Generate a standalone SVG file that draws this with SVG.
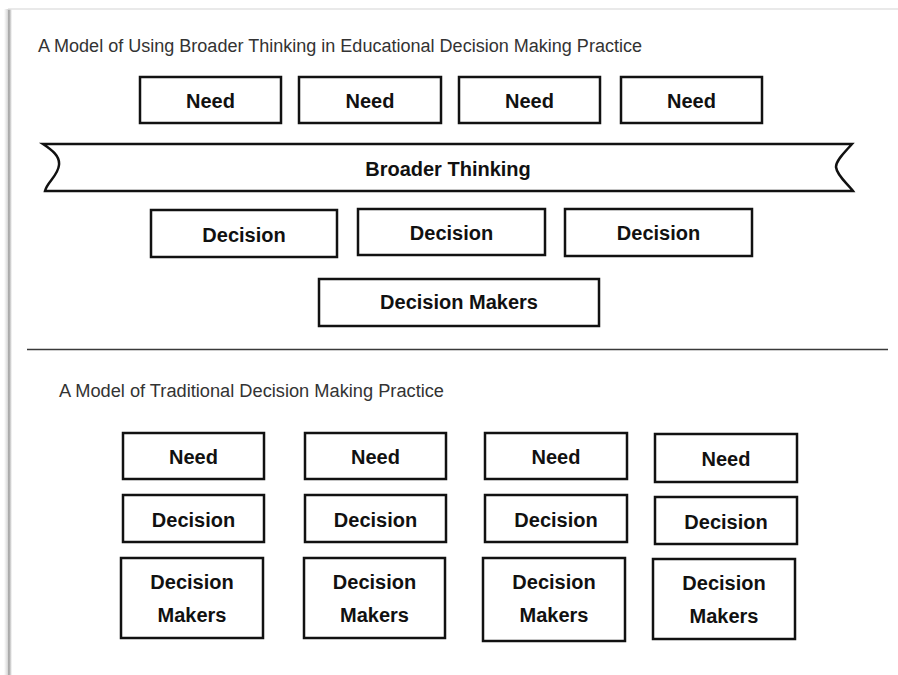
<svg xmlns="http://www.w3.org/2000/svg" width="898" height="675" viewBox="0 0 898 675">
  <defs>
    <linearGradient id="edgeShade" x1="0" y1="0" x2="1" y2="0">
      <stop offset="0" stop-color="#ffffff"/>
      <stop offset="0.45" stop-color="#d8d8d8"/>
      <stop offset="0.6" stop-color="#9a9a9a"/>
      <stop offset="1" stop-color="#ffffff"/>
    </linearGradient>
    <style>
      .box { fill: #ffffff; stroke: #111111; stroke-width: 2.5; }
      .label { font-family: "Liberation Sans", Arial, sans-serif; font-weight: bold; font-size: 20px; fill: #111111; text-anchor: middle; }
      .title { font-family: "Liberation Sans", Arial, sans-serif; font-size: 18px; fill: #333333; }
    </style>
  </defs>

  <!-- page -->
  <rect x="0" y="0" width="898" height="675" fill="#ffffff"/>
  <rect x="4" y="9" width="8" height="666" fill="url(#edgeShade)"/>
  <line x1="8" y1="9" x2="898" y2="9" stroke="#e2e2e2" stroke-width="1.5"/>

  <!-- upper model -->
  <text class="title" x="38" y="52" textLength="604" lengthAdjust="spacingAndGlyphs">A Model of Using Broader Thinking in Educational Decision Making Practice</text>

  <g id="need-1">
    <rect class="box" x="140" y="77" width="141" height="46"/>
    <text class="label" x="210.5" y="108">Need</text>
  </g>
  <g id="need-2">
    <rect class="box" x="299" y="77" width="142" height="46"/>
    <text class="label" x="370" y="108">Need</text>
  </g>
  <g id="need-3">
    <rect class="box" x="459" y="77" width="141" height="46"/>
    <text class="label" x="529.5" y="108">Need</text>
  </g>
  <g id="need-4">
    <rect class="box" x="621" y="77" width="141" height="46"/>
    <text class="label" x="691.5" y="108">Need</text>
  </g>

  <g id="broader-thinking">
    <path class="box" d="M43,144 L852,144 C845,152 836,160 836,167 C837,176 848,184 853,191 L45,191 C47,182 58,176 59,165 C60,156 52,150 43,144 Z"/>
    <text class="label" x="448" y="176">Broader Thinking</text>
  </g>

  <g id="decision-1">
    <rect class="box" x="151" y="210" width="186" height="47"/>
    <text class="label" x="244" y="242">Decision</text>
  </g>
  <g id="decision-2">
    <rect class="box" x="358" y="209" width="187" height="46"/>
    <text class="label" x="451.5" y="240">Decision</text>
  </g>
  <g id="decision-3">
    <rect class="box" x="565" y="209" width="187" height="47"/>
    <text class="label" x="658.5" y="240">Decision</text>
  </g>

  <g id="decision-makers">
    <rect class="box" x="319" y="279" width="280" height="47"/>
    <text class="label" x="459" y="309">Decision Makers</text>
  </g>

  <!-- divider -->
  <line x1="27" y1="349.5" x2="888" y2="349.5" stroke="#3a3a3a" stroke-width="1.5"/>

  <!-- lower model -->
  <text class="title" x="59" y="397" textLength="385" lengthAdjust="spacingAndGlyphs">A Model of Traditional Decision Making Practice</text>

  <g id="t-need-1">
    <rect class="box" x="123" y="433" width="141" height="46"/>
    <text class="label" x="193.5" y="464">Need</text>
  </g>
  <g id="t-decision-1">
    <rect class="box" x="123" y="495" width="141" height="47"/>
    <text class="label" x="193.5" y="527">Decision</text>
  </g>
  <g id="t-makers-1">
    <rect class="box" x="121" y="558" width="142" height="80"/>
    <text class="label" x="192" y="589">Decision</text>
    <text class="label" x="192" y="622">Makers</text>
  </g>

  <g id="t-need-2">
    <rect class="box" x="305" y="433" width="141" height="46"/>
    <text class="label" x="375.5" y="464">Need</text>
  </g>
  <g id="t-decision-2">
    <rect class="box" x="305" y="495" width="141" height="47"/>
    <text class="label" x="375.5" y="527">Decision</text>
  </g>
  <g id="t-makers-2">
    <rect class="box" x="304" y="558" width="141" height="80"/>
    <text class="label" x="374.5" y="589">Decision</text>
    <text class="label" x="374.5" y="622">Makers</text>
  </g>

  <g id="t-need-3">
    <rect class="box" x="485" y="433" width="142" height="46"/>
    <text class="label" x="556" y="464">Need</text>
  </g>
  <g id="t-decision-3">
    <rect class="box" x="485" y="495" width="142" height="47"/>
    <text class="label" x="556" y="527">Decision</text>
  </g>
  <g id="t-makers-3">
    <rect class="box" x="483" y="558" width="142" height="83"/>
    <text class="label" x="554" y="589">Decision</text>
    <text class="label" x="554" y="622">Makers</text>
  </g>

  <g id="t-need-4">
    <rect class="box" x="655" y="434" width="142" height="48"/>
    <text class="label" x="726" y="466">Need</text>
  </g>
  <g id="t-decision-4">
    <rect class="box" x="655" y="497" width="142" height="47"/>
    <text class="label" x="726" y="529">Decision</text>
  </g>
  <g id="t-makers-4">
    <rect class="box" x="653" y="559" width="142" height="80"/>
    <text class="label" x="724" y="590">Decision</text>
    <text class="label" x="724" y="623">Makers</text>
  </g>

  <!-- no connectors in this figure -->
  <g id="connectors"/>
</svg>
